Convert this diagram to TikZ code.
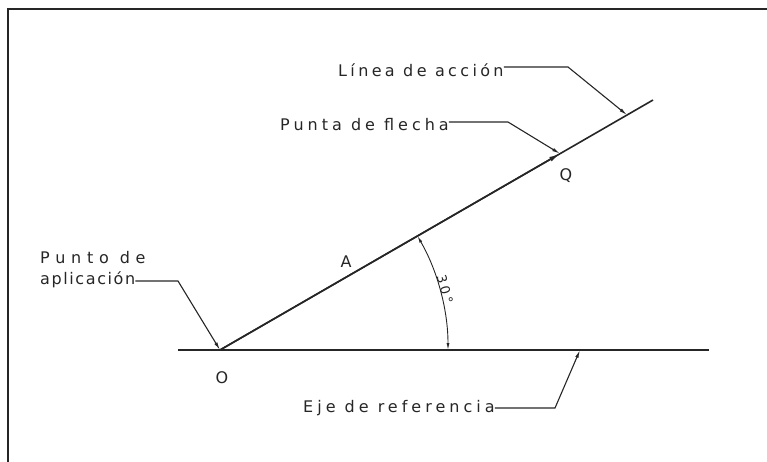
\documentclass[tikz,border=0pt]{standalone}
\usepackage{fontspec}
\setmainfont{DejaVu Sans}[LetterSpace=25]
\usetikzlibrary{arrows.meta,calc}
\tikzset{
  frameline/.style={line width=1.6pt,black!85},
  mainline/.style={line width=1.6pt,black!85},
  leader/.style={line width=1.1pt,black!85,-{Latex[length=8pt,width=3.5pt]}},
  dimline/.style={line width=0.9pt,black!85,{Latex[length=7pt,width=3pt]}-{Latex[length=7pt,width=3pt]}},
  lbl/.style={inner sep=0pt,font=\fontsize{16}{19}\selectfont,text=black!85},
}
\begin{document}
\begin{tikzpicture}[x=1pt,y=-1pt]
\useasboundingbox (0,0) rectangle (767,461);
% frame
\draw[frameline] (8,475) -- (8,9) -- (780,9);
% points
\coordinate (O) at (220,350);
\coordinate (axL) at (178,350);
\coordinate (axR) at (709,350);
\coordinate (E) at ($(O)+(-30:500)$);
\coordinate (Q) at ($(O)+(-30:392.6)$);
\coordinate (LT) at ($(O)+(-30:470)$);
\coordinate (AT) at (580,350);
% lines
\draw[mainline] (axL) -- (axR);
\draw[mainline] (O) -- (E);
\draw[mainline,-{Latex[length=11pt,width=5pt]}] (O) -- (Q);
% angle
\draw[dimline] ($(O)+(0:228)$) arc[start angle=0,end angle=-30,radius=228];
\node[lbl,rotate=-75,font=\fontsize{13}{15}\selectfont] (ang) at ($(O)+(-15:233)$) {30°};
% labels
\node[lbl] (lO) at (222,378) {O};
\node[lbl] (lQ) at (566,176) {Q};
\node[lbl] (lA) at (346,262) {A};
% leaders
\node[lbl,anchor=west] (tlinea) at (338,70) {\addfontfeatures{LetterSpace=21}Línea de acción};
\coordinate (b1) at (568,67);
\draw[leader] (tlinea.east |- b1) -- (b1) -- (LT);
\node[lbl,anchor=west] (tpunta) at (280,125) {Punta de flecha};
\coordinate (b2) at (508,122);
\draw[leader] (tpunta.east |- b2) -- (b2) -- (Q);
\node[lbl,anchor=west] (tap1) at (40,258) {\addfontfeatures{LetterSpace=36}Punto de};
\node[lbl,anchor=west] (tap2) at (40,280) {\addfontfeatures{LetterSpace=10}aplicación};
\coordinate (b3) at (178,281);
\draw[leader] (tap2.east |- b3) -- (b3) -- (O);
\node[lbl,anchor=west] (teje) at (303,408) {Eje de referencia};
\coordinate (b4) at (555,408);
\draw[leader] (teje.east |- b4) -- (b4) -- (AT);
\end{tikzpicture}
\end{document}
